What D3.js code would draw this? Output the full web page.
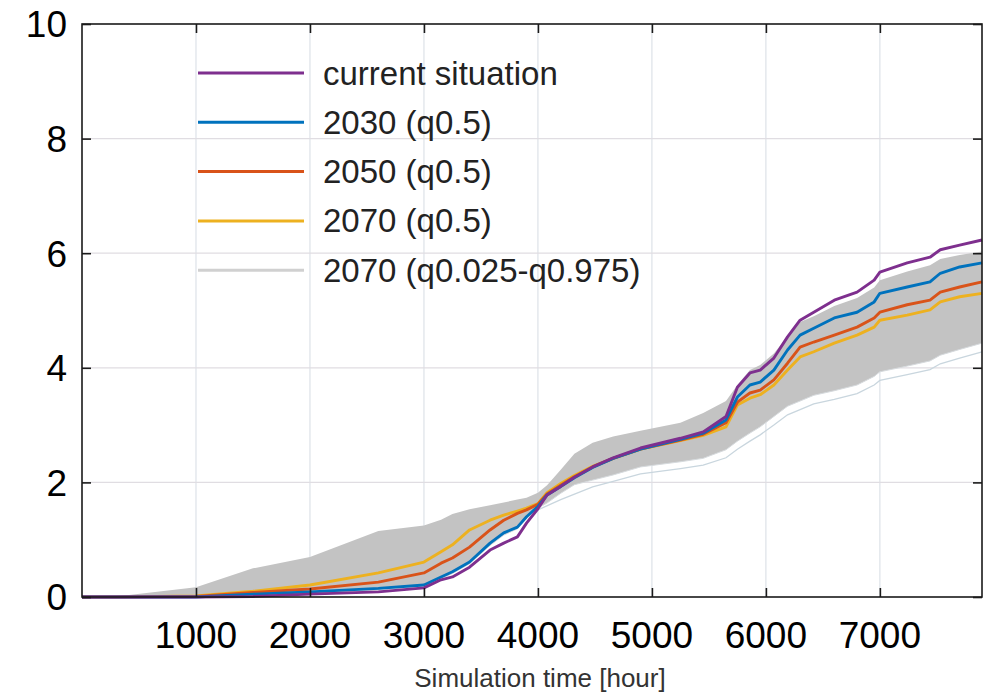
<!DOCTYPE html>
<html>
<head>
<meta charset="utf-8">
<script src="https://cdn.jsdelivr.net/npm/d3@7"></script>
<style>
  html, body { margin: 0; padding: 0; background: #fff; }
  svg { display: block; font-family: "Liberation Sans", Arial, sans-serif; }
</style>
</head>
<body>
<svg id="chart" width="1003" height="694"></svg>
<script>
// ---------------- data ----------------
const hours = [0, 300, 1000, 1500, 2000, 2600, 3000, 3150, 3250, 3400, 3580, 3700, 3820, 3900, 4000, 4080, 4200, 4320, 4480, 4660, 4900, 5250, 5450, 5650, 5750, 5860, 5950, 6070, 6190, 6300, 6420, 6600, 6800, 6950, 7000, 7240, 7440, 7530, 7700, 7896];

const currentSituation = [0, 0, 0, 0.01, 0.05, 0.09, 0.16, 0.30, 0.35, 0.52, 0.82, 0.94, 1.05, 1.29, 1.54, 1.78, 1.93, 2.09, 2.27, 2.43, 2.60, 2.77, 2.88, 3.15, 3.66, 3.91, 3.96, 4.17, 4.54, 4.83, 4.97, 5.18, 5.32, 5.53, 5.67, 5.83, 5.93, 6.06, 6.14, 6.23];
const s2030 = [0, 0, 0, 0.05, 0.09, 0.15, 0.21, 0.35, 0.44, 0.61, 0.94, 1.12, 1.22, 1.40, 1.58, 1.78, 1.93, 2.08, 2.26, 2.42, 2.58, 2.75, 2.86, 3.09, 3.49, 3.70, 3.75, 3.96, 4.31, 4.57, 4.69, 4.87, 4.97, 5.15, 5.30, 5.41, 5.50, 5.65, 5.76, 5.83];
const s2050 = [0, 0, 0.01, 0.08, 0.14, 0.26, 0.42, 0.59, 0.68, 0.87, 1.17, 1.34, 1.46, 1.52, 1.62, 1.80, 1.95, 2.10, 2.27, 2.42, 2.58, 2.74, 2.84, 3.04, 3.40, 3.56, 3.61, 3.79, 4.08, 4.36, 4.45, 4.57, 4.71, 4.87, 4.97, 5.10, 5.18, 5.32, 5.41, 5.50];
const s2070 = [0, 0, 0.02, 0.10, 0.21, 0.42, 0.61, 0.79, 0.91, 1.17, 1.34, 1.43, 1.50, 1.55, 1.63, 1.82, 1.98, 2.12, 2.28, 2.42, 2.58, 2.73, 2.82, 2.97, 3.35, 3.47, 3.53, 3.70, 3.96, 4.19, 4.28, 4.43, 4.57, 4.71, 4.83, 4.92, 5.01, 5.15, 5.24, 5.30];
const band2070Low = [0, 0, 0, 0.01, 0.04, 0.12, 0.19, 0.32, 0.41, 0.58, 0.90, 1.08, 1.19, 1.37, 1.55, 1.64, 1.81, 1.96, 2.04, 2.13, 2.27, 2.36, 2.42, 2.57, 2.72, 2.86, 2.97, 3.15, 3.33, 3.42, 3.52, 3.60, 3.70, 3.85, 3.93, 4.03, 4.12, 4.22, 4.32, 4.43];
const band2070High = [0, 0.01, 0.17, 0.50, 0.70, 1.15, 1.25, 1.35, 1.45, 1.53, 1.60, 1.65, 1.70, 1.73, 1.82, 1.95, 2.22, 2.50, 2.69, 2.80, 2.90, 3.04, 3.21, 3.42, 3.70, 3.96, 4.05, 4.25, 4.55, 4.80, 4.90, 5.08, 5.22, 5.40, 5.53, 5.68, 5.79, 5.90, 5.97, 6.03];

// a lower single run drawn as a thin light line
const outlineHours = [4000, 4200, 4480, 4660, 4900, 5250, 5450, 5650, 5750, 5860, 5950, 6070, 6190, 6300, 6420, 6600, 6800, 6950, 7000, 7240, 7440, 7530, 7700, 7896];
const outlineLow = [1.52, 1.70, 1.92, 2.02, 2.15, 2.24, 2.30, 2.43, 2.58, 2.72, 2.83, 3.00, 3.18, 3.27, 3.37, 3.45, 3.55, 3.70, 3.78, 3.88, 3.97, 4.07, 4.17, 4.28];

const xTicks = [1000, 2000, 3000, 4000, 5000, 6000, 7000];
const yTicks = [0, 2, 4, 6, 8, 10];
const legendLabels = ["current situation", "2030 (q0.5)", "2050 (q0.5)", "2070 (q0.5)", "2070 (q0.025-q0.975)"];
const colors = ["#7e2f8e", "#0072bd", "#d95319", "#edb120", "#d0d0d0"];
const xLabel = "Simulation time [hour]";

// ---------------- layout ----------------
const L = 82, R = 982, T = 24, B = 597;
const svg = d3.select("#chart");
const x = d3.scaleLinear().domain([0, 7896]).range([L, R]);
const y = d3.scaleLinear().domain([0, 10]).range([B, T]);

// grid
const grid = svg.append("g");
grid.selectAll("line.v").data(xTicks).join("line")
  .attr("x1", d => x(d)).attr("x2", d => x(d)).attr("y1", T).attr("y2", B)
  .attr("stroke", "#dde2e8").attr("stroke-width", 1.2);
grid.selectAll("line.h").data(yTicks.filter(d => d > 0 && d < 10)).join("line")
  .attr("x1", L).attr("x2", R).attr("y1", d => y(d)).attr("y2", d => y(d))
  .attr("stroke", "#e0dde2").attr("stroke-width", 1.2);

// band
const pts = hours.map((h, i) => ({h, lo: band2070Low[i], hi: band2070High[i]}));
svg.append("path").datum(pts)
  .attr("d", d3.area().x(d => x(d.h)).y0(d => y(d.lo)).y1(d => y(d.hi)))
  .attr("fill", "#c3c3c3");
svg.append("path").datum(pts)
  .attr("d", d3.line().x(d => x(d.h)).y(d => y(d.lo)))
  .attr("fill", "none").attr("stroke", "#d6dadd").attr("stroke-width", 1);
svg.append("path").datum(outlineHours.map((h, i) => ({h, v: outlineLow[i]})))
  .attr("d", d3.line().x(d => x(d.h)).y(d => y(d.v)))
  .attr("fill", "none").attr("stroke", "#c9d6de").attr("stroke-width", 1.3);

// median lines
const series = [s2070, s2050, s2030, currentSituation];
const sColors = [colors[3], colors[2], colors[1], colors[0]];
const line = d3.line().x(d => x(d.h)).y(d => y(d.v));
series.forEach((s, k) => {
  svg.append("path").datum(hours.map((h, i) => ({h, v: s[i]})))
    .attr("d", line).attr("fill", "none")
    .attr("stroke", sColors[k]).attr("stroke-width", 2.9)
    .attr("stroke-linejoin", "round");
});

// axes frame
svg.append("rect").attr("x", L).attr("y", T).attr("width", R - L).attr("height", B - T)
  .attr("fill", "none").attr("stroke", "#1a1a1a").attr("stroke-width", 1.6);

const axB = d3.axisBottom(x).tickValues(xTicks).tickSize(-9).tickFormat("");
const axT = d3.axisTop(x).tickValues(xTicks).tickSize(-9).tickFormat("");
const axL = d3.axisLeft(y).tickValues(yTicks).tickSize(-9).tickFormat("");
const axR = d3.axisRight(y).tickValues(yTicks).tickSize(-9).tickFormat("");
[[axB, `translate(0,${B})`], [axT, `translate(0,${T})`], [axL, `translate(${L},0)`], [axR, `translate(${R},0)`]].forEach(([a, t]) => {
  const g = svg.append("g").attr("transform", t).call(a);
  g.select(".domain").remove();
  g.selectAll("line").attr("stroke", "#1a1a1a").attr("stroke-width", 1.6);
});

// tick labels
svg.append("g").selectAll("text").data(xTicks).join("text")
  .attr("x", d => x(d)).attr("y", 648).attr("text-anchor", "middle")
  .attr("font-size", 37).attr("fill", "#000").text(d => d);
svg.append("g").selectAll("text").data(yTicks).join("text")
  .attr("x", 67).attr("y", d => y(d)).attr("dy", "0.36em").attr("text-anchor", "end")
  .attr("font-size", 37).attr("fill", "#000").text(d => d);

svg.append("text").attr("x", 540).attr("y", 687).attr("text-anchor", "middle")
  .attr("font-size", 26).attr("fill", "#333").text(xLabel);

// legend
const lg = svg.append("g");
legendLabels.forEach((lab, i) => {
  const yy = 73 + i * 49.3;
  lg.append("line").attr("x1", 198).attr("x2", 304).attr("y1", yy).attr("y2", yy)
    .attr("stroke", colors[i]).attr("stroke-width", 3);
  lg.append("text").attr("x", 323).attr("y", yy).attr("dy", "0.35em")
    .attr("font-size", 33).attr("fill", "#222").text(lab);
});
</script>
</body>
</html>
